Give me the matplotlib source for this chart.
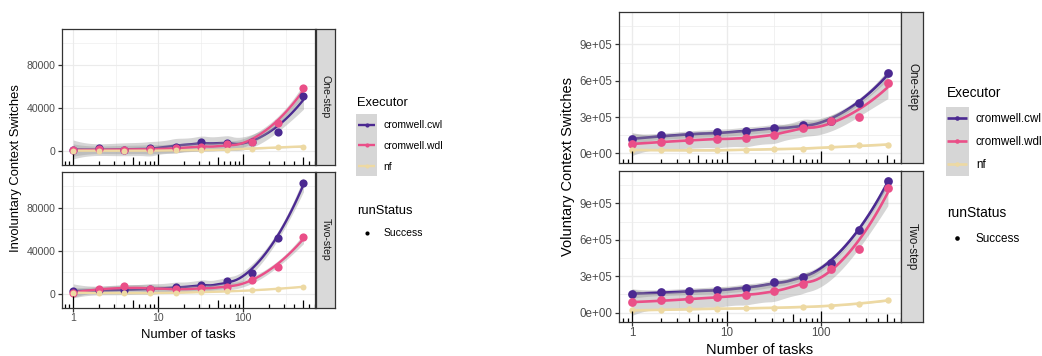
import numpy as np
import matplotlib
matplotlib.use("Agg")
import matplotlib.pyplot as plt
from matplotlib.ticker import FixedLocator, NullLocator, FuncFormatter

plt.rcParams['font.family'] = ['Liberation Sans', 'DejaVu Sans']

W, H, DPI = 1042, 356, 100

# ---------------- data ----------------
tasks = [1, 2, 4, 8, 16, 32, 64, 128, 256, 512]
executors = ["cromwell.cwl", "cromwell.wdl", "nf"]
colors = ["#4B2991", "#EA4F88", "#EDD9A3"]
facets = ["One-step", "Two-step"]
run_status = ["Success"]

invol_one_cwl = [900, 2500, 1200, 2500, 4000, 8600, 7100, 8600, 17300, 50500]
invol_one_wdl = [600, 1800, 1200, 1500, 2800, 3900, 6500, 8600, 25600, 58200]
invol_one_nf = [300, 300, 300, 300, 500, 1000, 1200, 2100, 4000, 4000]
invol_two_cwl = [2500, 3400, 3400, 4600, 5800, 8000, 11700, 19400, 51700, 103000]
invol_two_wdl = [900, 4000, 7100, 4000, 4300, 5500, 6500, 12300, 25200, 52300]
invol_two_nf = [900, 900, 600, 600, 900, 1500, 2200, 3100, 4600, 6500]

vol_one_cwl = [115600, 151000, 151000, 173000, 182000, 209000, 237000, 264000, 418000, 660000]
vol_one_wdl = [77000, 93600, 107000, 121000, 127000, 149000, 212000, 264000, 297000, 578000]
vol_one_nf = [27500, 28000, 25000, 25000, 30000, 36000, 38500, 49500, 66000, 71500]
vol_two_cwl = [154000, 170600, 176000, 187000, 201000, 250000, 297000, 407000, 682000, 1087000]
vol_two_wdl = [85000, 102000, 110000, 127000, 149000, 176000, 237000, 360000, 523000, 1027000]
vol_two_nf = [19000, 22000, 27500, 33000, 36000, 38500, 49500, 55000, 74000, 102000]

invol = {"One-step": [invol_one_cwl, invol_one_wdl, invol_one_nf],
         "Two-step": [invol_two_cwl, invol_two_wdl, invol_two_nf]}
vol = {"One-step": [vol_one_cwl, vol_one_wdl, vol_one_nf],
       "Two-step": [vol_two_cwl, vol_two_wdl, vol_two_nf]}

invol_yticks = [0, 40000, 80000]
vol_yticks = [0, 300000, 600000, 900000]
x_breaks = [1, 10, 100]


# ---------------- loess (as ggplot geom_smooth) ----------------
def t_quantile(df, z=1.959963985):
    g1 = (z**3 + z) / 4
    g2 = (5 * z**5 + 16 * z**3 + 3 * z) / 96
    g3 = (3 * z**7 + 19 * z**5 + 17 * z**3 - 15 * z) / 384
    g4 = (79 * z**9 + 776 * z**7 + 1482 * z**5 - 1920 * z**3 - 945 * z) / 92160
    return z + g1 / df + g2 / df**2 + g3 / df**3 + g4 / df**4


def loess(x, y, xnew, span=0.75):
    x = np.asarray(x, float)
    y = np.asarray(y, float)
    n = len(x)
    q = int(np.floor(n * span))

    def row(x0):
        d = np.abs(x - x0)
        h = np.sort(d)[q - 1] * 1.0001
        u = np.clip(d / h, 0, 1)
        w = (1 - u**3)**3
        X = np.column_stack([np.ones(n), x - x0, (x - x0)**2])
        XtW = X.T * w
        return np.linalg.solve(XtW @ X, XtW)[0]

    L = np.array([row(v) for v in x])
    Ln = np.array([row(v) for v in xnew])
    fit = Ln @ y
    res = y - L @ y
    IL = np.eye(n) - L
    A = IL.T @ IL
    d1 = np.trace(A)
    d2 = np.trace(A @ A)
    s = np.sqrt(np.sum(res**2) / d1)
    se = s * np.sqrt(np.sum(Ln**2, axis=1))
    t = t_quantile(d1**2 / d2)
    return fit, fit - t * se, fit + t * se


fig = plt.figure(figsize=(W / DPI, H / DPI), dpi=DPI)


def px_axes(x0, y0, x1, y1):
    return fig.add_axes([x0 / W, 1 - y1 / H, (x1 - x0) / W, (y1 - y0) / H])


def draw_panel(data, ylabel, box, ylim, yticks, yfmt, s, lw, ms, ms_nf,
               strip_w, ylab_x, xlab_y, xpad):
    x0, x1, tops, bots = box
    lx = np.log10(tasks)
    rng = lx.max() - lx.min()
    xlim = (10 ** (lx.min() - 0.05 * rng), 10 ** (lx.max() + 0.05 * rng))
    xs = np.linspace(lx.min(), lx.max(), 80)
    step = yticks[1] - yticks[0]
    yminor = [v + step / 2 for v in [yticks[0] - step] + list(yticks)]
    fs_tick = 8.8 * s
    for fi, facet in enumerate(facets):
        ax = px_axes(x0, tops[fi], x1, bots[fi])
        ax.set_xscale('log')
        ax.set_xlim(xlim)
        ax.set_ylim(ylim)
        # grid
        for v in [10 ** 0.5, 10 ** 1.5, 10 ** 2.5]:
            ax.axvline(v, color='#EBEBEB', lw=0.5 * s, zorder=0)
        for v in yminor:
            ax.axhline(v, color='#EBEBEB', lw=0.5 * s, zorder=0)
        for v in x_breaks:
            ax.axvline(v, color='#EBEBEB', lw=1.0 * s, zorder=0)
        for v in yticks:
            ax.axhline(v, color='#EBEBEB', lw=1.0 * s, zorder=0)
        # smooths
        for ei, ex in enumerate(executors):
            fit, lo, hi = loess(lx, data[facet][ei], xs)
            ax.fill_between(10 ** xs, lo, hi, color='#999999', alpha=0.4, lw=0, zorder=2)
            ax.plot(10 ** xs, fit, color=colors[ei], lw=lw, zorder=2, solid_capstyle='butt')
        # points
        for ei, ex in enumerate(executors):
            ax.plot(tasks, data[facet][ei], 'o', color=colors[ei],
                    ms=ms_nf if ex == "nf" else ms, mec='none', zorder=3)
        # log ticks (annotation_logticks, bottom)
        hpx = bots[fi] - tops[fi]
        for dec in [0.1, 1, 10, 100, 1000]:
            for m in range(1, 10):
                L = 11.3 if m == 1 else (7.6 if m == 5 else 3.8)
                ax.vlines(dec * m, 0, L / hpx, transform=ax.get_xaxis_transform(),
                          color='black', lw=0.9, zorder=4)
        for sp in ax.spines.values():
            sp.set_color('#333333')
            sp.set_linewidth(0.9)
            sp.set_zorder(5)
        ax.xaxis.set_minor_locator(NullLocator())
        ax.yaxis.set_minor_locator(NullLocator())
        ax.yaxis.set_major_locator(FixedLocator(yticks))
        ax.yaxis.set_major_formatter(FuncFormatter(yfmt))
        ax.xaxis.set_major_locator(FixedLocator(x_breaks))
        ax.xaxis.set_major_formatter(FuncFormatter(lambda v, p: f"{v:g}"))
        ax.tick_params(axis='both', which='major', direction='out',
                       length=2.75 * s * 1.2, width=0.9, color='#333333',
                       labelsize=fs_tick, labelcolor='#4D4D4D')
        ax.tick_params(axis='y', pad=2.2 * s)
        ax.tick_params(axis='x', pad=xpad)
        if fi == 0:
            ax.tick_params(axis='x', bottom=False, labelbottom=False)
        # strip
        sax = px_axes(x1 + 0.5, tops[fi], x1 + strip_w, bots[fi])
        sax.set_facecolor('#D9D9D9')
        sax.set_xticks([])
        sax.set_yticks([])
        for sp in sax.spines.values():
            sp.set_color('#333333')
            sp.set_linewidth(0.9)
        sax.text(0.5, 0.5, facet, rotation=270, ha='center', va='center',
                 rotation_mode='anchor', fontsize=fs_tick, color='#1A1A1A',
                 transform=sax.transAxes)
    # axis titles
    fig.text(ylab_x / W, 1 - ((tops[0] + bots[1]) / 2) / H, ylabel, rotation=90,
             ha='center', va='center', fontsize=11 * s, color='black')
    fig.text(((x0 + x1) / 2) / W, 1 - xlab_y / H, "Number of tasks",
             ha='center', va='baseline', fontsize=11 * s, color='black')


draw_panel(invol, "Involuntary Context Switches",
           (61.7, 315, [28.7, 171.7], [165, 307.7]),
           (-12970, 113300), invol_yticks, lambda v, p: f"{int(v)}",
           0.855, 1.7, 5.9, 4.3, 20, 16.2, 337.5, 1.2)
draw_panel(vol, "Voluntary Context Switches",
           (619.3, 900.7, [11.7, 170.7], [162.7, 322]),
           (-77100, 1169700), vol_yticks,
           lambda v, p: ("%.0e" % v).replace("e+0", "e+0"),
           0.955, 1.9, 6.3, 4.6, 22.5, 568, 353.5, 0.2)

# ---------------- legends ----------------
lg = fig.add_axes([0, 0, 1, 1])
lg.set_xlim(0, W)
lg.set_ylim(H, 0)
lg.axis('off')


def legend(x, title_y, key_top, key_w, row_h, text_x, rs_y, dot_y, dot_x,
           fs_title, fs_text, lw, kms):
    lg.text(x, title_y + 0.36 * fs_title * DPI / 72, "Executor", fontsize=fs_title,
            va='baseline', ha='left', color='black')
    lg.add_patch(plt.Rectangle((x - 1, key_top), key_w, row_h * 3,
                               facecolor='#D6D6D6', edgecolor='none'))
    for i, ex in enumerate(executors):
        cy = key_top + row_h * (i + 0.5)
        lg.plot([x + 0.7, x + key_w - 2.7], [cy, cy], color=colors[i], lw=lw,
                solid_capstyle='butt')
        lg.plot([x - 1 + key_w / 2], [cy], 'o', color=colors[i], ms=kms, mec='none')
        lg.text(text_x, cy + 0.36 * fs_text * DPI / 72, ex, fontsize=fs_text,
                va='baseline', ha='left', color='black')
    lg.text(x, rs_y + 0.36 * fs_title * DPI / 72, "runStatus", fontsize=fs_title,
            va='baseline', ha='left', color='black')
    lg.plot([dot_x], [dot_y], 'o', color='black', ms=kms, mec='none')
    lg.text(text_x, dot_y + 0.36 * fs_text * DPI / 72, run_status[0], fontsize=fs_text,
            va='baseline', ha='left', color='black')


legend(357, 101.7, 114.3, 21, 20.6, 383.3, 209.7, 232.7, 366.7, 9.3, 7.5, 1.7, 3.0)
legend(946.7, 92.3, 106.5, 23, 23, 976, 212.3, 237.7, 957.3, 9.9, 8.4, 1.9, 3.3)

fig.savefig("out.png", dpi=DPI)
